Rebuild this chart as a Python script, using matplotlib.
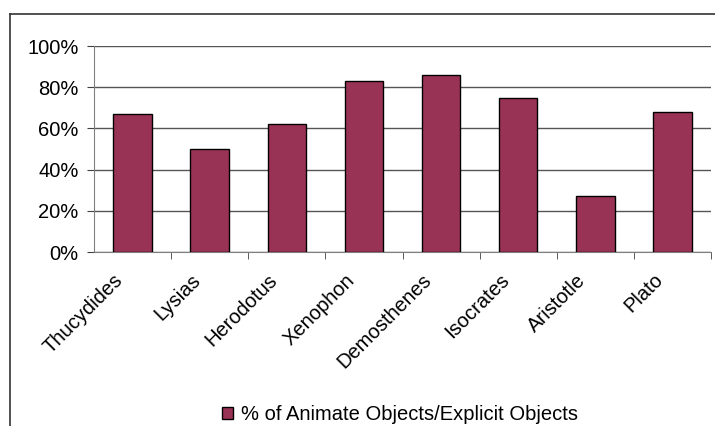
import matplotlib.pyplot as plt
from matplotlib.lines import Line2D
from matplotlib.ticker import FuncFormatter, FixedLocator
from matplotlib.transforms import ScaledTranslation

authors = ["Thucydides", "Lysias", "Herodotus", "Xenophon",
           "Demosthenes", "Isocrates", "Aristotle", "Plato"]
animateShare = [0.67, 0.50, 0.62, 0.83, 0.86, 0.75, 0.27, 0.68]
seriesName = "% of Animate Objects/Explicit Objects"

plt.rcParams['font.family'] = ['Liberation Sans', 'DejaVu Sans']

fig = plt.figure(figsize=(7.15, 4.26), dpi=100)
ax = fig.add_axes([94 / 715, 174 / 426, 617 / 715, 206 / 426])

positions = range(len(authors))
ax.bar(positions, animateShare, width=0.5, color="#993355",
       edgecolor="black", linewidth=1, zorder=3, label=seriesName)

ax.set_xlim(-0.5, len(authors) - 0.5)
ax.set_ylim(0, 1.0)
ax.set_yticks([0, 0.2, 0.4, 0.6, 0.8, 1.0])
ax.yaxis.set_major_formatter(FuncFormatter(lambda v, _: "%d%%" % round(v * 100)))
ax.grid(axis="y", color="#555555", linewidth=1, zorder=0)

# category labels sit under the bars, tick marks fall between them
ax.set_xticks(list(positions))
ax.set_xticklabels(authors, rotation=45, ha="right", rotation_mode="anchor")
ax.tick_params(axis="x", length=0, labelsize=14.5, pad=6)
ax.xaxis.set_minor_locator(FixedLocator([i + 0.5 for i in range(len(authors))]))
ax.tick_params(axis="x", which="minor", length=5, color="#404040")
ax.tick_params(axis="y", length=5, color="#404040", labelsize=14.5, pad=6)

# push the slanted names a bit down and left of their bars
shift = ScaledTranslation(-0.19, -0.1, fig.dpi_scale_trans)
for label in ax.get_xticklabels():
    label.set_transform(label.get_transform() + shift)

for side in ["top", "right"]:
    ax.spines[side].set_visible(False)
ax.spines["left"].set_color("#808080")
ax.spines["bottom"].set_color("#808080")

# outer chart frame
fig.add_artist(Line2D([10 / 715, 10 / 715], [0, 1 - 14 / 426],
                      color="#333333", linewidth=1.2))
fig.add_artist(Line2D([10 / 715, 1], [1 - 14 / 426, 1 - 14 / 426],
                      color="#333333", linewidth=1.2))

fig.legend(loc="center", bbox_to_anchor=(400 / 715, 1 - 415 / 426), frameon=False,
           fontsize=14.5, handlelength=0.55, handleheight=0.55, handletextpad=0.4)

fig.savefig("out.png", dpi=100)
